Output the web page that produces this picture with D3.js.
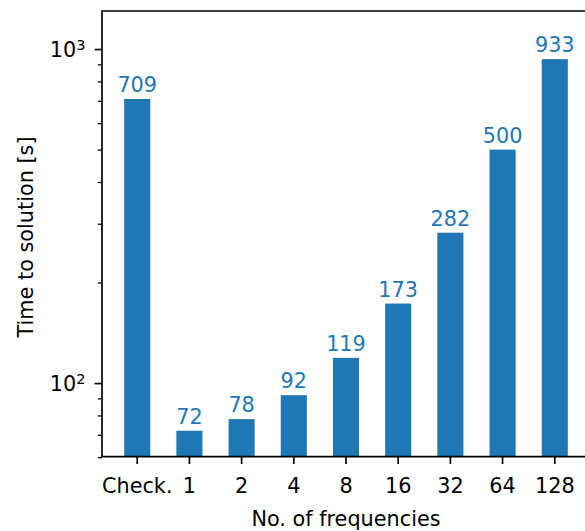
<!DOCTYPE html>
<html>
<head>
<meta charset="utf-8">
<script src="https://cdn.jsdelivr.net/npm/d3@7"></script>
<style>
  body { margin: 0; background: #fff; }
  svg { display: block; }
  text { font-family: "DejaVu Sans", sans-serif; }
</style>
</head>
<body>
<svg id="chart" width="585" height="531"></svg>
<script>
// Time to solution per run configuration
const categories = ["Check.", "1", "2", "4", "8", "16", "32", "64", "128"];
const times = [709, 72, 78, 92, 119, 173, 282, 500, 933];

// Log-axis ticks and limits
const majorTicks = [100, 1000];
const minorTicks = [60, 70, 80, 90, 200, 300, 400, 500, 600, 700, 800, 900];
const yLimits = [60.2, 1300];

const xTitle = "No. of frequencies";
const yTitle = "Time to solution [s]";

const barColor = "#1f77b4";
const fontSize = 20.8;

const box = { left: 102, top: 11, right: 590, bottom: 456.7 };

const svg = d3.select("#chart");

const x = d3.scaleBand()
  .domain(categories)
  .range([box.left, box.right])
  .paddingInner(0.5)
  .paddingOuter(0.425);

const y = d3.scaleLog()
  .domain(yLimits)
  .range([box.bottom, box.top]);

// Bars
svg.append("g")
  .selectAll("rect")
  .data(times)
  .join("rect")
  .attr("x", (d, i) => x(categories[i]))
  .attr("width", x.bandwidth())
  .attr("y", d => y(d))
  .attr("height", d => box.bottom - y(d))
  .attr("fill", barColor);

// Value labels above bars
svg.append("g")
  .selectAll("text")
  .data(times)
  .join("text")
  .attr("x", (d, i) => x(categories[i]) + x.bandwidth() / 2)
  .attr("y", d => y(d) - 7)
  .attr("text-anchor", "middle")
  .attr("fill", barColor)
  .attr("font-size", fontSize)
  .text(d => d);

// X axis
const xAxis = svg.append("g")
  .attr("transform", `translate(0,${box.bottom})`)
  .call(d3.axisBottom(x).tickSizeOuter(0).tickSizeInner(7.3).tickPadding(7));
xAxis.select(".domain").remove();
xAxis.selectAll(".tick line").attr("stroke", "#000").attr("stroke-width", 1.67);
xAxis.selectAll(".tick text")
  .attr("font-size", fontSize)
  .attr("fill", "#000")
  .attr("dy", null)
  .attr("y", 36.6);

// Y axis, minor ticks
const yMinor = svg.append("g")
  .attr("transform", `translate(${box.left},0)`)
  .call(d3.axisLeft(y).tickValues(minorTicks).tickSize(4.2).tickFormat(""));
yMinor.select(".domain").remove();
yMinor.selectAll(".tick line").attr("stroke", "#000").attr("stroke-width", 1.25);

// Y axis, major ticks with power-of-ten labels
const yMajor = svg.append("g")
  .attr("transform", `translate(${box.left},0)`)
  .call(d3.axisLeft(y).tickValues(majorTicks).tickSize(7.3).tickFormat(""));
yMajor.select(".domain").remove();
yMajor.selectAll(".tick line").attr("stroke", "#000").attr("stroke-width", 1.67);
yMajor.selectAll(".tick").each(function(d) {
  const t = d3.select(this).append("text")
    .attr("x", -16.5)
    .attr("y", 7.7)
    .attr("text-anchor", "end")
    .attr("fill", "#000")
    .attr("font-size", fontSize);
  t.append("tspan").text("10");
  t.append("tspan")
    .attr("font-size", fontSize * 0.7)
    .attr("dy", -7.2)
    .text(String(Math.round(Math.log10(d))));
});

// Frame
svg.append("path")
  .attr("d", `M${box.left},${box.bottom}V${box.top}H${box.right}V${box.bottom}Z`)
  .attr("fill", "none")
  .attr("stroke", "#000")
  .attr("stroke-width", 1.67)
  .attr("stroke-linecap", "square");

// Axis titles
svg.append("text")
  .attr("x", (box.left + box.right) / 2)
  .attr("y", 526)
  .attr("text-anchor", "middle")
  .attr("font-size", fontSize)
  .attr("fill", "#000")
  .text(xTitle);

svg.append("text")
  .attr("transform", "rotate(-90)")
  .attr("x", -237)
  .attr("y", 32.7)
  .attr("text-anchor", "middle")
  .attr("font-size", fontSize)
  .attr("fill", "#000")
  .text(yTitle);
</script>
</body>
</html>
